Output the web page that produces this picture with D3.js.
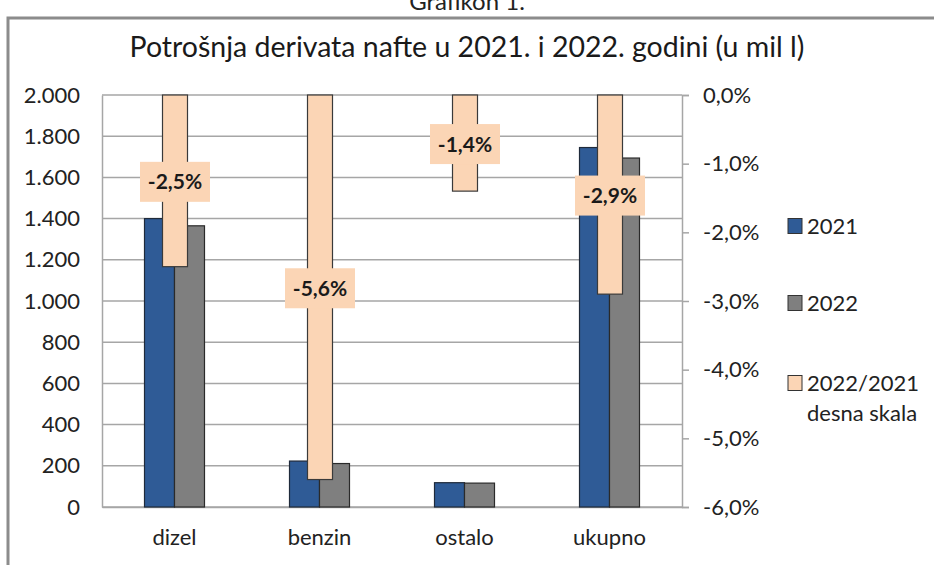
<!DOCTYPE html>
<html><head><meta charset="utf-8">
<script src="https://cdn.jsdelivr.net/npm/d3@7"></script>
<style>body{margin:0;background:#fff}svg{display:block;font-family:Lato,sans-serif}</style>
</head><body>
<svg id="c" width="934" height="565"></svg>
<script>
const categories = ["dizel","benzin","ostalo","ukupno"];
const values2021 = [1400, 223, 118, 1745];
const values2022 = [1365, 211, 116, 1694];
const changePct = [-2.5, -5.6, -1.4, -2.9];
const leftTicks = [0,200,400,600,800,1000,1200,1400,1600,1800,2000];
const rightTicks = [0,-1,-2,-3,-4,-5,-6];
const legendLabels = ["2021","2022","2022/2021"];

const svg = d3.select("#c");
const L = 102, R = 682, T = 95, B = 507;
const FONT = "Lato";
const fmtL = d3.formatLocale({decimal:",", thousands:".", grouping:[3], currency:["",""]});
const fmtR = v => d3.format(".1f")(v).replace(".", ",").replace("−","-") + "%";

// frame
svg.append("path").attr("d","M8,565 V18 H934").attr("fill","none").attr("stroke","#8c8c8c").attr("stroke-width",3);
svg.append("text").attr("x",467).attr("y",10).attr("text-anchor","middle").attr("font-size",24).attr("fill","#222").text("Grafikon 1.");
svg.append("text").attr("x",467).attr("y",57).attr("text-anchor","middle").attr("font-size",28.5).attr("fill","#1a1a1a").text("Potrošnja derivata nafte u 2021. i 2022. godini (u mil l)");

const x = d3.scaleBand().domain(categories).range([L,R]);
const y = d3.scaleLinear().domain([0,2000]).range([B,T]);
const y2 = d3.scaleLinear().domain([-6,0]).range([B,T]);

// gridlines
svg.append("g").selectAll("line").data(leftTicks).join("line")
  .attr("x1",L).attr("x2",R).attr("y1",d=>y(d)).attr("y2",d=>y(d))
  .attr("stroke","#a6a6a6").attr("stroke-width",1.5);

// left axis
const gl = svg.append("g").attr("transform",`translate(${L},0)`)
  .call(d3.axisLeft(y).tickValues(leftTicks).tickSize(0).tickPadding(22).tickFormat(fmtL.format(",")));
gl.select(".domain").attr("stroke","#a6a6a6").attr("stroke-width",1.5);
gl.selectAll("text").attr("font-size",22).attr("fill","#222").attr("font-family",FONT);

// right axis
const gr = svg.append("g").attr("transform",`translate(${R},0)`)
  .call(d3.axisRight(y2).tickValues(rightTicks).tickSize(7).tickPadding(14).tickFormat(fmtR));
gr.select(".domain").attr("stroke","#a6a6a6").attr("stroke-width",1.5);
gr.selectAll(".tick line").attr("stroke","#a6a6a6").attr("stroke-width",1.5);
gr.selectAll("text").attr("font-size",22).attr("fill","#222").attr("font-family",FONT);

// bottom axis
const gb = svg.append("g").attr("transform",`translate(0,${B})`)
  .call(d3.axisBottom(x).tickSize(0).tickPadding(22));
gb.select(".domain").attr("stroke","#a6a6a6").attr("stroke-width",1.5);
gb.selectAll("text").attr("font-size",22).attr("fill","#222").attr("font-family",FONT);

const bw = 30;
const cx = c => x(c) + x.bandwidth()/2;
svg.append("g").selectAll("rect").data(categories).join("rect")
  .attr("x",c=>cx(c)-bw).attr("width",bw)
  .attr("y",(c,i)=>y(values2021[i])).attr("height",(c,i)=>B-y(values2021[i]))
  .attr("fill","#2f5b96").attr("stroke","#1f2a3a").attr("stroke-width",1.2);
svg.append("g").selectAll("rect").data(categories).join("rect")
  .attr("x",c=>cx(c)).attr("width",bw)
  .attr("y",(c,i)=>y(values2022[i])).attr("height",(c,i)=>B-y(values2022[i]))
  .attr("fill","#7f7f7f").attr("stroke","#2a2a2a").attr("stroke-width",1.2);

const pw = 25;
svg.append("g").selectAll("rect").data(categories).join("rect")
  .attr("x",c=>cx(c)-pw/2+0.5).attr("width",pw)
  .attr("y",y2(0)).attr("height",(c,i)=>y2(changePct[i])-y2(0))
  .attr("fill","#fbd5b5").attr("stroke","#3a3a3a").attr("stroke-width",1.2);

// labels
const lg = svg.append("g").selectAll("g").data(categories).join("g")
  .attr("transform",(c,i)=>`translate(${cx(c)+0.5},${(y2(0)+y2(changePct[i]))/2+1})`);
lg.append("rect").attr("x",-35).attr("y",-20).attr("width",70).attr("height",40).attr("fill","#fbd5b5");
lg.append("text").attr("text-anchor","middle").attr("dy","0.36em").attr("font-size",21).attr("font-weight","bold")
  .attr("fill","#1a1a1a").text((c,i)=>fmtR(changePct[i]));

// legend
const legColors = ["#2f5b96","#7f7f7f","#fbd5b5"];
const legY = [226, 303, 383];
const leg = svg.append("g").selectAll("g").data(legendLabels).join("g")
  .attr("transform",(d,i)=>`translate(788,${legY[i]})`);
leg.append("rect").attr("x",0).attr("y",-7.5).attr("width",14).attr("height",15)
  .attr("fill",(d,i)=>legColors[i]).attr("stroke","#333").attr("stroke-width",1);
leg.append("text").attr("x",19).attr("dy","0.36em").attr("font-size",22).attr("fill","#222").text(d=>d);
svg.append("text").attr("x",807).attr("y",413).attr("dy","0.36em").attr("font-size",22).attr("fill","#222").text("desna skala");
</script>
</body></html>
